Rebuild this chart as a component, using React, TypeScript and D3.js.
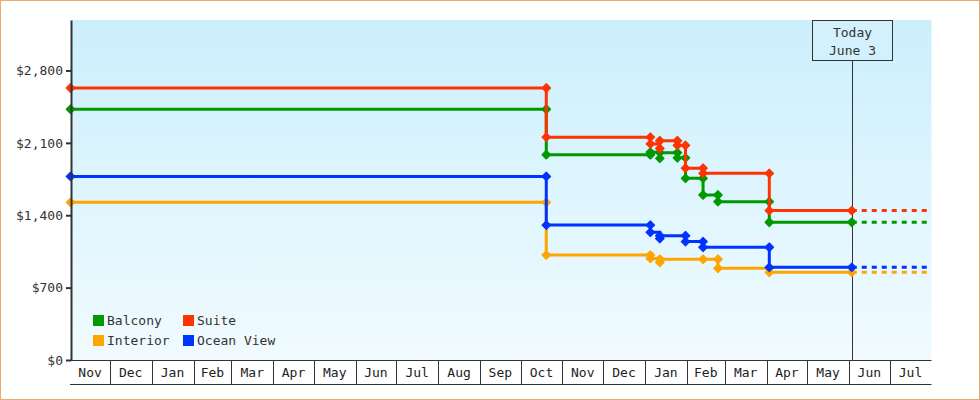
import { useEffect, useRef } from 'react';
import * as d3 from 'd3';

type Point = [string, number];

// price history per cabin type (date, price); repeated dates = price change
const balcony: Point[] = [
  ['2017-11-02', 2425],
  ['2018-10-20', 2425],
  ['2018-10-20', 1985],
  ['2019-01-05', 1985],
  ['2019-01-05', 2010],
  ['2019-01-12', 1950],
  ['2019-01-12', 2005],
  ['2019-01-25', 2005],
  ['2019-01-25', 1955],
  ['2019-01-31', 1955],
  ['2019-01-31', 1757],
  ['2019-02-13', 1757],
  ['2019-02-13', 1596],
  ['2019-02-24', 1596],
  ['2019-02-24', 1531],
  ['2019-04-03', 1531],
  ['2019-04-03', 1332],
  ['2019-06-03', 1332],
];
const suite: Point[] = [
  ['2017-11-02', 2630],
  ['2018-10-20', 2630],
  ['2018-10-20', 2155],
  ['2019-01-05', 2155],
  ['2019-01-05', 2090],
  ['2019-01-12', 2045],
  ['2019-01-12', 2120],
  ['2019-01-25', 2120],
  ['2019-01-25', 2075],
  ['2019-01-31', 2075],
  ['2019-01-31', 1855],
  ['2019-02-13', 1855],
  ['2019-02-13', 1805],
  ['2019-04-03', 1805],
  ['2019-04-03', 1445],
  ['2019-06-03', 1445],
];
const interior: Point[] = [
  ['2017-11-02', 1525],
  ['2018-10-20', 1525],
  ['2018-10-20', 1015],
  ['2019-01-05', 1015],
  ['2019-01-05', 982],
  ['2019-01-12', 945],
  ['2019-01-12', 974],
  ['2019-02-13', 974],
  ['2019-02-24', 974],
  ['2019-02-24', 887],
  ['2019-04-03', 887],
  ['2019-04-03', 848],
  ['2019-06-03', 848],
];
const oceanView: Point[] = [
  ['2017-11-02', 1775],
  ['2018-10-20', 1775],
  ['2018-10-20', 1305],
  ['2019-01-05', 1305],
  ['2019-01-05', 1235],
  ['2019-01-12', 1175],
  ['2019-01-12', 1202],
  ['2019-01-31', 1202],
  ['2019-01-31', 1145],
  ['2019-02-13', 1145],
  ['2019-02-13', 1090],
  ['2019-04-03', 1090],
  ['2019-04-03', 896],
  ['2019-06-03', 896],
];

const seriesNames = ['Balcony', 'Suite', 'Interior', 'Ocean View'];
const seriesColors = ['#009900', '#ff3300', '#ffa500', '#0033ff'];
const seriesData = [balcony, suite, interior, oceanView];

const yTicks = [0, 700, 1400, 2100, 2800];
const startDate = '2017-11-02';
const endDate = '2019-08-01';
const todayDate = '2019-06-03';
const todayLabel = ['Today', 'June 3'];

const FONT = '"DejaVu Sans Mono", monospace';

const App: React.FC = () => {
  const svgRef = useRef<SVGSVGElement | null>(null);

  useEffect(() => {
    if (svgRef.current === null) return;
    const svg = d3.select(svgRef.current);
    svg.selectAll('*').remove();

    const W = 980;
    const H = 400;
    const left = 71;
    const right = 931.5;
    const top = 20;
    const bottom = 360;

    const parse = d3.timeParse('%Y-%m-%d');
    const start = parse(startDate)!;
    const end = parse(endDate)!;
    const today = parse(todayDate)!;

    const x = d3.scaleTime().domain([start, end]).range([70.5, right]);
    const y = d3.scaleLinear().domain([0, 3288]).range([bottom, top]);

    // outer frame
    svg
      .append('rect')
      .attr('x', 0.5)
      .attr('y', 0.5)
      .attr('width', W - 1)
      .attr('height', H - 1)
      .attr('fill', '#fff')
      .attr('stroke', '#e9ac6a');

    // background gradient
    const grad = svg
      .append('defs')
      .append('linearGradient')
      .attr('id', 'bg')
      .attr('x1', 0)
      .attr('y1', 0)
      .attr('x2', 0)
      .attr('y2', 1);
    grad.append('stop').attr('offset', '0%').attr('stop-color', '#cbeffc');
    grad.append('stop').attr('offset', '100%').attr('stop-color', '#f1fbff');

    svg
      .append('rect')
      .attr('x', left)
      .attr('y', top)
      .attr('width', right - left)
      .attr('height', bottom - top)
      .attr('fill', 'url(#bg)');

    // today marker
    const tx = Math.round(x(today)) + 0.5;
    svg
      .append('line')
      .attr('x1', tx)
      .attr('x2', tx)
      .attr('y1', 60.5)
      .attr('y2', bottom)
      .attr('stroke', '#333')
      .attr('stroke-width', 1);
    svg
      .append('rect')
      .attr('x', tx - 40)
      .attr('y', 20.5)
      .attr('width', 80)
      .attr('height', 40)
      .attr('fill', '#d2f1fc')
      .attr('stroke', '#333');
    svg
      .selectAll('.today-text')
      .data(todayLabel)
      .enter()
      .append('text')
      .attr('class', 'today-text')
      .attr('x', tx)
      .attr('y', (_d, i) => 37 + i * 17.5)
      .attr('text-anchor', 'middle')
      .attr('font-family', FONT)
      .attr('font-size', 13)
      .attr('fill', '#333')
      .text((d) => d);

    // step lines
    const line = d3
      .line<Point>()
      .x((d) => x(parse(d[0])!))
      .y((d) => y(d[1]))
      .curve(d3.curveStepAfter);

    const symbol = d3.symbol().type(d3.symbolSquare).size(36);

    seriesData.forEach((data, i) => {
      const color = seriesColors[i];
      const last = data[data.length - 1];
      // projection after today
      svg
        .append('line')
        .attr('x1', x(parse(last[0])!))
        .attr('x2', x(end))
        .attr('y1', y(last[1]))
        .attr('y2', y(last[1]))
        .attr('stroke', color)
        .attr('stroke-width', 3)
        .attr('stroke-dasharray', '5,5');

      svg
        .append('path')
        .datum(data)
        .attr('d', line)
        .attr('fill', 'none')
        .attr('stroke', color)
        .attr('stroke-width', 3);

      svg
        .selectAll(`.dot-${i}`)
        .data(data)
        .enter()
        .append('path')
        .attr('class', `dot-${i}`)
        .attr('d', symbol)
        .attr(
          'transform',
          (d) => `translate(${x(parse(d[0])!)},${y(d[1])}) rotate(45)`
        )
        .attr('fill', color)
        .attr('stroke', color)
        .attr('stroke-width', 1.2)
        .attr('stroke-linejoin', 'round');
    });

    // y axis
    const yAxis = svg
      .append('g')
      .attr('transform', `translate(${left},0)`)
      .call(
        d3
          .axisLeft(y)
          .tickValues(yTicks)
          .tickFormat(d3.format('$,'))
          .tickSize(5)
          .tickSizeOuter(0)
          .tickPadding(3)
      );
    yAxis.select('.domain').attr('stroke', '#333').attr('stroke-width', 2);
    yAxis.selectAll('.tick line').attr('stroke', '#333').attr('stroke-width', 2);
    yAxis
      .selectAll('.tick text')
      .attr('fill', '#333')
      .attr('font-family', FONT)
      .attr('font-size', 13);

    // x axis: month cells
    svg
      .append('line')
      .attr('x1', 70)
      .attr('x2', right)
      .attr('y1', bottom + 0.5)
      .attr('y2', bottom + 0.5)
      .attr('stroke', '#333');
    svg
      .append('line')
      .attr('x1', 70)
      .attr('x2', right)
      .attr('y1', 384.5)
      .attr('y2', 384.5)
      .attr('stroke', '#333');

    const months = d3.timeMonth.range(d3.timeMonth.floor(start), end);
    svg
      .selectAll('.month-sep')
      .data(months.filter((m) => m > start))
      .enter()
      .append('line')
      .attr('class', 'month-sep')
      .attr('x1', (d) => Math.round(x(d)) + 0.5)
      .attr('x2', (d) => Math.round(x(d)) + 0.5)
      .attr('y1', bottom)
      .attr('y2', 384.5)
      .attr('stroke', '#333');

    svg
      .selectAll('.month-label')
      .data(months)
      .enter()
      .append('text')
      .attr('class', 'month-label')
      .attr('x', (d) => {
        const a = x(d < start ? start : d);
        const nxt = d3.timeMonth.offset(d, 1);
        const b = x(nxt > end ? end : nxt);
        return (a + b) / 2;
      })
      .attr('y', 377)
      .attr('text-anchor', 'middle')
      .attr('font-family', FONT)
      .attr('font-size', 13)
      .attr('fill', '#222')
      .text((d) => d3.timeFormat('%b')(d));

    // legend
    const legend = svg
      .selectAll('.legend')
      .data(seriesNames)
      .enter()
      .append('g')
      .attr('class', 'legend')
      .attr(
        'transform',
        (_d, i) => `translate(${93 + (i % 2) * 90},${315 + Math.floor(i / 2) * 20})`
      );
    legend
      .append('rect')
      .attr('width', 11)
      .attr('height', 11)
      .attr('fill', (_d, i) => seriesColors[i]);
    legend
      .append('text')
      .attr('x', 14)
      .attr('y', 10)
      .attr('font-family', FONT)
      .attr('font-size', 13)
      .attr('fill', '#333')
      .text((d) => d);
  }, []);

  return (
    <svg
      ref={svgRef}
      width={980}
      height={400}
      style={{ position: 'absolute', left: 0, top: 0 }}
    ></svg>
  );
};

export default App;
